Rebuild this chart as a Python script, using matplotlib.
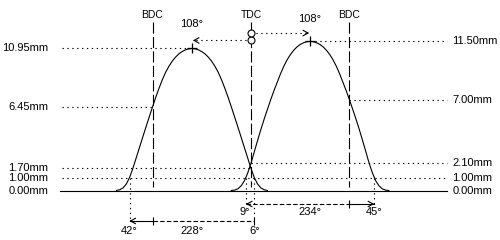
import numpy as np
import matplotlib
matplotlib.use("Agg")
import matplotlib.pyplot as plt

# ---------------- data ----------------
events = ["BDC", "TDC", "BDC"]
event_deg = [-180, 0, 180]

# exhaust lobe (left)
exh_center = -108
exh_max = 10.95
exh_open, exh_close = -222, 6
exh_bdc_lift, exh_tdc_lift = 6.45, 1.70
exh_offsets = [0, 6, 12, 18, 24, 30, 36, 42, 48, 54, 60, 66, 72, 78, 84, 90,
               96, 102, 108, 114, 120, 126, 132, 138]
exh_lifts = [10.95, 10.92, 10.84, 10.71, 10.53, 10.28, 9.97, 9.58, 9.12, 8.55,
             7.90, 7.20, 6.45, 5.68, 4.90, 4.10, 3.30, 2.50, 1.70, 1.00, 0.50,
             0.20, 0.06, 0.00]

# intake lobe (right)
int_center = 108
int_max = 11.50
int_open, int_close = -9, 225
int_bdc_lift, int_tdc_lift = 7.00, 2.10
int_offsets = [0, 6, 12, 18, 24, 30, 36, 42, 48, 54, 60, 66, 72, 78, 84, 90,
               96, 102, 108, 114, 120, 126, 132, 138, 144]
int_lifts = [11.50, 11.47, 11.39, 11.26, 11.07, 10.81, 10.48, 10.07, 9.58, 9.00,
             8.35, 7.70, 7.00, 6.25, 5.50, 4.70, 3.85, 2.98, 2.10, 1.35, 0.75,
             0.36, 0.13, 0.03, 0.00]

check_lift = 1.00

# ---------------- figure ----------------
plt.rcParams['font.family'] = ['Liberation Sans', 'DejaVu Sans']
FS = 8
fig = plt.figure(figsize=(5, 2.4), dpi=100)
ax = fig.add_axes([0, 0, 1, 1])
kx = 0.547   # px per degree
ky = 12.97   # px per mm
ax.set_xlim(-251 / kx, 249 / kx)
ax.set_ylim((190.5 - 240) / ky, 190.5 / ky)
ax.axis('off')

x_left, x_right = -345, 358
lw = 0.8
dot = (0, (1.2, 3.2))
dash_v = (0, (10, 3))
dash_s = (0, (4, 2))


def lobe(center, offsets, lifts):
    off = np.asarray(offsets, float)
    lf = np.asarray(lifts, float)
    x = np.concatenate([center - off[::-1], center + off[1:]])
    y = np.concatenate([lf[::-1], lf[1:]])
    return x, y


# baseline
ax.plot([x_left - 4, x_right], [0, 0], color='black', lw=lw)

# lobes
for c, o, l in [(exh_center, exh_offsets, exh_lifts), (int_center, int_offsets, int_lifts)]:
    x, y = lobe(c, o, l)
    ax.plot(x, y, color='black', lw=lw)

# BDC / TDC lines
for name, d in zip(events, event_deg):
    ax.plot([d, d], [13.0, 0.27], color='black', lw=lw, linestyle=dash_v)
    ax.text(d, 13.55, name, ha='center', va='center', fontsize=7.5)

# horizontal dotted reference lines
dot_kw = dict(color='black', lw=lw, linestyle=dot)
ax.plot([x_left, exh_center], [exh_max, exh_max], **dot_kw)
ax.plot([x_left, event_deg[0]], [exh_bdc_lift, exh_bdc_lift], **dot_kw)
ax.plot([x_left, event_deg[1]], [exh_tdc_lift, exh_tdc_lift], **dot_kw)
ax.plot([x_left, x_right], [check_lift, check_lift], **dot_kw)
ax.plot([int_center, x_right], [int_max, int_max], **dot_kw)
ax.plot([event_deg[2], x_right], [int_bdc_lift, int_bdc_lift], **dot_kw)
ax.plot([event_deg[1], x_right], [int_tdc_lift, int_tdc_lift], **dot_kw)

# left / right value labels
ytr = ax.get_yaxis_transform()
for v in [exh_max, exh_bdc_lift, exh_tdc_lift, check_lift, 0.0]:
    ax.text(0.097, v, f"{v:.2f}mm", transform=ytr, ha='right', va='center', fontsize=FS)
for v in [int_max, int_bdc_lift, int_tdc_lift, check_lift, 0.0]:
    ax.text(0.905, v, f"{v:.2f}mm", transform=ytr, ha='left', va='center', fontsize=FS)

# peak markers
ax.plot([exh_center, int_center], [exh_max, int_max], linestyle='none',
        marker='+', ms=7, mew=0.9, color='black')


def head(x, y, direction):
    ax.annotate("", xy=(x, y), xytext=(x - direction * 4, y),
                arrowprops=dict(arrowstyle="->,head_length=0.35,head_width=0.2",
                                lw=0.8, color='black', shrinkA=0, shrinkB=0))


# top arrows TDC -> peaks
y_exh_top, y_int_top = 11.57, 12.14
ax.plot([event_deg[1], exh_center + 2], [y_exh_top, y_exh_top], **dot_kw)
head(exh_center + 2, y_exh_top, -1)
ax.plot([event_deg[1], int_center - 2], [y_int_top, y_int_top], **dot_kw)
head(int_center - 2, y_int_top, 1)
ax.plot([0, 0], [y_exh_top, y_int_top], linestyle='none', marker='o', ms=5,
        mfc='white', mec='black', mew=0.8)
ax.text(exh_center, 12.85, f"{abs(exh_center)}°", ha='center', va='center', fontsize=FS)
ax.text(int_center, 13.2, f"{int_center}°", ha='center', va='center', fontsize=FS)

# bottom duration arrows
y_int_arr, y_exh_arr = -1.04, -2.35
y_int_lab, y_exh_lab = -1.66, -3.1
for x in [exh_open, exh_close]:
    ax.plot([x, x], [check_lift, y_exh_arr], **dot_kw)
for x in [int_open, int_close]:
    ax.plot([x, x], [check_lift, y_int_arr], **dot_kw)

# exhaust
ax.plot([exh_open, event_deg[0]], [y_exh_arr, y_exh_arr], color='black', lw=lw)
ax.plot([event_deg[0], exh_close], [y_exh_arr, y_exh_arr], color='black', lw=lw, linestyle=dash_s)
head(exh_open, y_exh_arr, -1)
ax.plot([event_deg[0], exh_close], [y_exh_arr, y_exh_arr], linestyle='none',
        marker='|', ms=6, mew=0.8, color='black')
# intake
ax.plot([int_open, event_deg[2]], [y_int_arr, y_int_arr], color='black', lw=lw, linestyle=dash_s)
ax.plot([event_deg[2], int_close], [y_int_arr, y_int_arr], color='black', lw=lw)
head(int_open, y_int_arr, -1)
head(int_close, y_int_arr, 1)
ax.plot([event_deg[2]], [y_int_arr], linestyle='none', marker='|', ms=6, mew=0.8, color='black')

ax.text(exh_open, y_exh_lab, f"{event_deg[0] - exh_open}°".replace('-', ''), ha='center', va='center', fontsize=FS)
ax.text((exh_open + exh_close) / 2, y_exh_lab, f"{exh_close - exh_open}°", ha='center', va='center', fontsize=FS)
ax.text(exh_close, y_exh_lab, f"{exh_close}°", ha='center', va='center', fontsize=FS)
ax.text(int_open - 2, y_int_lab, f"{-int_open}°", ha='center', va='center', fontsize=FS)
ax.text((int_open + int_close) / 2, y_int_lab, f"{int_close - int_open}°", ha='center', va='center', fontsize=FS)
ax.text(int_close, y_int_lab, f"{int_close - event_deg[2]}°", ha='center', va='center', fontsize=FS)

fig.savefig("out.png", dpi=100)
